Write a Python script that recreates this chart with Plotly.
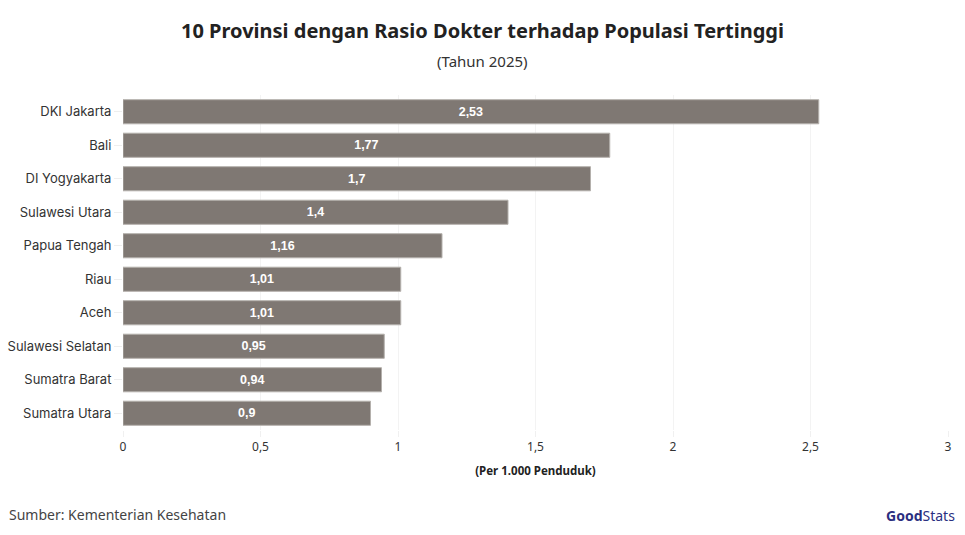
import plotly.graph_objects as go

provinces = ["DKI Jakarta", "Bali", "DI Yogyakarta", "Sulawesi Utara", "Papua Tengah",
             "Riau", "Aceh", "Sulawesi Selatan", "Sumatra Barat", "Sumatra Utara"]
values = [2.53, 1.77, 1.70, 1.40, 1.16, 1.01, 1.01, 0.95, 0.94, 0.90]
labels = ["2,53", "1,77", "1,7", "1,4", "1,16", "1,01", "1,01", "0,95", "0,94", "0,9"]
tick_vals = [0, 0.5, 1, 1.5, 2, 2.5, 3]
tick_text = ["0", "0,5", "1", "1,5", "2", "2,5", "3"]

fig = go.Figure(go.Bar(
    x=values, y=provinces, orientation="h",
    marker=dict(color="#7f7873", line=dict(color="#b4b0ac", width=1)),
    text=labels, textposition="inside", insidetextanchor="middle",
    textfont=dict(family="Liberation Sans", size=12.5, color="white", weight="bold"),
    hoverinfo="skip",
))

fig.update_layout(
    width=965, height=535,
    margin=dict(l=123, r=17, t=95, b=105),
    plot_bgcolor="white", paper_bgcolor="white",
    bargap=0.28,
    showlegend=False,
    font=dict(family="Inter", size=12, color="#333333"),
    title=dict(text="<b>10 Provinsi dengan Rasio Dokter terhadap Populasi Tertinggi</b>",
               x=0.5, xanchor="center", y=0.942, yanchor="middle",
               font=dict(family="Noto Sans", size=20, color="#222222")),
    xaxis=dict(range=[0, 3], tickvals=tick_vals, ticktext=tick_text, automargin=False,
               showgrid=True, gridcolor="#f3f3f3", zeroline=False,
               ticks="outside", ticklen=6, tickcolor="#f0f0f0",
               tickfont=dict(family="Noto Sans", size=12, color="#333333"),
               title=dict(text="<b>(Per 1.000 Penduduk)</b>", standoff=12,
                          font=dict(family="Noto Sans", size=11.5, color="#222222"))),
    yaxis=dict(autorange="reversed", showgrid=False, automargin=False,
               ticks="outside", ticklen=8, tickcolor="#eeeeee",
               tickfont=dict(family="Inter", size=13, color="#333333")),
    annotations=[
        dict(text="(Tahun 2025)", xref="paper", yref="paper", x=(482 - 123) / 825, y=1.0,
             xanchor="center", yanchor="bottom", yshift=22, showarrow=False,
             font=dict(family="Noto Sans", size=15, color="#333333")),
        dict(text="Sumber: Kementerian Kesehatan", xref="paper", yref="paper",
             x=-116/825, y=0, xanchor="left", yanchor="middle", yshift=-84,
             showarrow=False, font=dict(family="Noto Sans", size=14, color="#444444")),
        dict(text="<b>Good</b>Stats", xref="paper", yref="paper",
             x=1 + 9/825, y=0, xanchor="right", yanchor="middle", yshift=-85,
             showarrow=False, font=dict(family="Noto Sans", size=14, color="#2b2f7f")),
    ],
)

fig.write_html("out.html", config={"displayModeBar": False},
               post_script="document.body.style.margin='0';")
